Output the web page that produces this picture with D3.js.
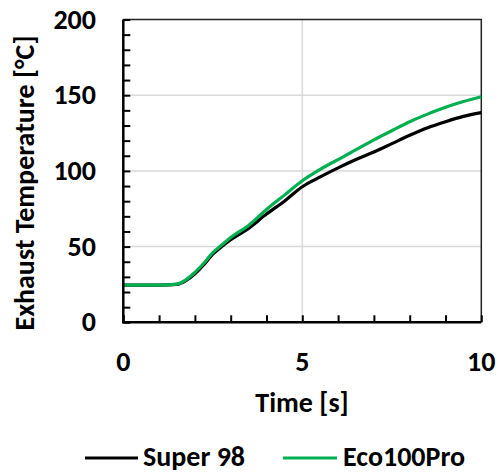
<!DOCTYPE html>
<html><head><meta charset="utf-8">
<script src="https://cdn.jsdelivr.net/npm/d3@7"></script>
<style>body{margin:0;background:#fff}svg{display:block}text{font-family:Carlito,Calibri,Lato,"Open Sans",sans-serif;font-weight:bold}</style>
</head><body><svg id="c" width="501" height="473"></svg>
<script>
const times = [0,1,1.5,1.75,2,2.25,2.5,2.75,3,3.5,4,4.5,5,5.5,6,6.5,7,7.5,8,8.5,9,9.5,10];
const super98 = [24.5,24.5,25,27.5,32,38,45,50,54.5,62,71.5,80,89.5,96,102,107.5,112.5,118,123.5,128.5,132.5,136,138.5];
const eco100 = [24.5,24.5,25.2,28,33,39,46,51,56,64,74.5,84,93.5,101,107.5,114,120.5,126.5,132.5,137.5,142,145.8,149];
const seriesNames = ["Super 98","Eco100Pro"];
const seriesColors = ["#000000","#00b050"];
const xTicks = [0,5,10];
const yTicks = [0,50,100,150,200];

const svg = d3.select("#c");
const L=123.3,R=481.3,T=19.5,B=322.3;
const FS = 28;
const x = d3.scaleLinear().domain([0,10]).range([L,R]);
const y = d3.scaleLinear().domain([0,200]).range([B,T]);

// gridlines
svg.append("g").selectAll("line").data([50,100,150]).join("line")
  .attr("x1",L).attr("x2",R).attr("y1",d=>y(d)).attr("y2",d=>y(d))
  .attr("stroke","#d9d9d9").attr("stroke-width",1.5);
svg.append("g").selectAll("line").data([5]).join("line")
  .attr("x1",d=>x(d)).attr("x2",d=>x(d)).attr("y1",T).attr("y2",B)
  .attr("stroke","#d9d9d9").attr("stroke-width",1.5);

// top/right border
svg.append("path").attr("d",`M${L},${T}H${R}V${B}`).attr("fill","none").attr("stroke","#222").attr("stroke-width",1.5);

// minor ticks
const yAx = d3.axisRight(y).tickValues(d3.range(0,201,10)).tickSize(7).tickFormat("");
const gy = svg.append("g").attr("transform",`translate(${L},0)`).call(yAx);
gy.select(".domain").remove();
gy.selectAll(".tick line").attr("stroke","#000").attr("stroke-width",2);
const xAx = d3.axisTop(x).tickValues(d3.range(0,11,1)).tickSize(7).tickFormat("");
const gx = svg.append("g").attr("transform",`translate(0,${B})`).call(xAx);
gx.select(".domain").remove();
gx.selectAll(".tick line").attr("stroke","#000").attr("stroke-width",2);

// lines
const line = d3.line().x((d,i)=>x(times[i])).y(d=>y(d)).curve(d3.curveMonotoneX);
[super98,eco100].forEach((s,k)=>{
  svg.append("path").datum(s).attr("d",line).attr("fill","none")
    .attr("stroke",seriesColors[k]).attr("stroke-width",3.2).attr("stroke-linejoin","round");
});

// main axes
svg.append("path").attr("d",`M${L},${T}V${B}H${R}`).attr("fill","none").attr("stroke","#000").attr("stroke-width",2.5);

// tick labels
svg.append("g").selectAll("text").data(yTicks).join("text")
  .attr("x",96).attr("y",d=>y(d)+9).attr("text-anchor","end")
  .attr("font-size",FS).text(d=>d);
svg.append("g").selectAll("text").data(xTicks).join("text")
  .attr("x",d=>x(d)).attr("y",371).attr("text-anchor","middle")
  .attr("font-size",FS).text(d=>d);

svg.append("text").attr("x",302).attr("y",412).attr("text-anchor","middle").attr("font-size",FS).text("Time [s]");
svg.append("text").attr("transform","translate(34,183) rotate(-90)").attr("text-anchor","middle").attr("font-size",FS).text("Exhaust Temperature [°C]");

// legend
const lg = [{x1:85,x2:138,tx:143},{x1:283,x2:337,tx:343}];
lg.forEach((p,k)=>{
  svg.append("line").attr("x1",p.x1).attr("x2",p.x2).attr("y1",458).attr("y2",458).attr("stroke",seriesColors[k]).attr("stroke-width",3.2);
  svg.append("text").attr("x",p.tx).attr("y",466).attr("font-size",FS).text(seriesNames[k]);
});
</script></body></html>
